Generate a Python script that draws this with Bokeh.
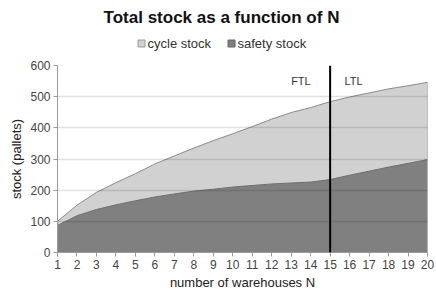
from bokeh.plotting import figure
from bokeh.layouts import column
from bokeh.models import Range1d, Span, FixedTicker, ColumnDataSource
from bokeh.core.properties import value
from bokeh.embed import file_html
from bokeh.resources import INLINE

N = list(range(1, 21))
safety_stock = [87, 118, 138, 153, 166, 178, 188, 197, 203, 210, 215, 220, 223, 226, 234, 248, 261, 274, 286, 298]
cycle_stock = [13, 34, 55, 71, 87, 106, 122, 138, 156, 171, 189, 208, 226, 239, 250, 251, 251, 251, 249, 248]
y_ticks = [0, 100, 200, 300, 400, 500, 600]
split_n = 15
regime_labels = ["FTL", "LTL"]
regime_label_x = [13.5, 16.2]
regime_label_y = [550, 550]
series_names = ["cycle stock", "safety stock"]
series_colors = ["#d0d1d0", "#808080"]
title_text = "Total stock as a function of N"

FONT = "Liberation Sans"
W, TOP_H, MAIN_H = 436, 56, 236
BL, BR = 57, 9

# ---- header (title + legend), coordinates in page pixels ----
hdr = figure(width=W, height=TOP_H, output_backend="svg", toolbar_location=None,
             x_range=Range1d(BL, W - BR), y_range=Range1d(TOP_H, 0),
             x_axis_type=None, y_axis_type=None,
             min_border_left=BL, min_border_right=BR, min_border_top=0, min_border_bottom=0)
hdr.outline_line_color = None
hdr.grid.visible = False
hdr.text(x=[221], y=[17], text=[title_text], text_font=value(FONT), text_font_size="17px",
         text_font_style="bold", text_color="#111111", text_align="center", text_baseline="middle")
leg_sq_x = [141, 231]
leg_txt_x = [147, 237]
hdr.scatter(x=leg_sq_x, y=[43, 43], marker="square", size=7, fill_color=series_colors,
            line_color=["#9a9a9a", "#666666"], line_width=1)
hdr.text(x=leg_txt_x, y=[43, 43], text=series_names, text_font=value(FONT), text_font_size="13px",
         text_color="#333333", text_align="left", text_baseline="middle")

# ---- main chart ----
total_stock = [s + c for s, c in zip(safety_stock, cycle_stock)]
zeros = [0] * len(N)
src = ColumnDataSource(dict(N=N, safety=safety_stock, total=total_stock, zero=zeros))

p = figure(width=W, height=MAIN_H, output_backend="svg", toolbar_location=None,
           x_range=Range1d(1, 20), y_range=Range1d(0, 600),
           min_border_left=BL, min_border_right=BR, min_border_bottom=38, min_border_top=9)
p.outline_line_color = None

p.varea(x="N", y1="safety", y2="total", source=src, fill_color=series_colors[0])
p.varea(x="N", y1="zero", y2="safety", source=src, fill_color=series_colors[1])
p.line(x="N", y="total", source=src, line_color="#8a8a8a", line_width=1)
p.line(x="N", y="safety", source=src, line_color="#6e6e6e", line_width=1)
p.segment(x0=[N[-1]], y0=[0], x1=[N[-1]], y1=[total_stock[-1]], line_color="#8a8a8a", line_width=1)

p.ygrid.grid_line_color = "black"
p.ygrid.grid_line_alpha = 0.12
p.ygrid.grid_line_width = 1.6
p.ygrid.level = "overlay"
p.xgrid.grid_line_color = None

p.add_layout(Span(location=split_n, dimension="height", line_color="black", line_width=2))
p.text(x=regime_label_x, y=regime_label_y, text=regime_labels, text_font=value(FONT),
       text_font_size="11px", text_color="#333333", text_align="center", text_baseline="middle")

p.yaxis.ticker = FixedTicker(ticks=y_ticks)
p.xaxis.ticker = FixedTicker(ticks=N)
for ax in (p.xaxis, p.yaxis):
    ax.axis_line_color = "#9a9a9a"
    ax.major_tick_line_color = "#9a9a9a"
    ax.major_tick_out = 4
    ax.major_tick_in = 0
    ax.minor_tick_line_color = None
    ax.major_label_text_font = FONT
    ax.major_label_text_font_size = "12px"
    ax.major_label_text_color = "#444444"
    ax.axis_label_text_font = FONT
    ax.axis_label_text_font_size = "13px"
    ax.axis_label_text_font_style = "normal"
    ax.axis_label_text_color = "#222222"
    ax.major_label_standoff = 3
    ax.axis_label_standoff = 3
p.xaxis.axis_label = "number of warehouses N"
p.yaxis.axis_label = "stock (pallets)"

layout = column(hdr, p, spacing=0)
open("out.html", "w").write(file_html(layout, INLINE))
